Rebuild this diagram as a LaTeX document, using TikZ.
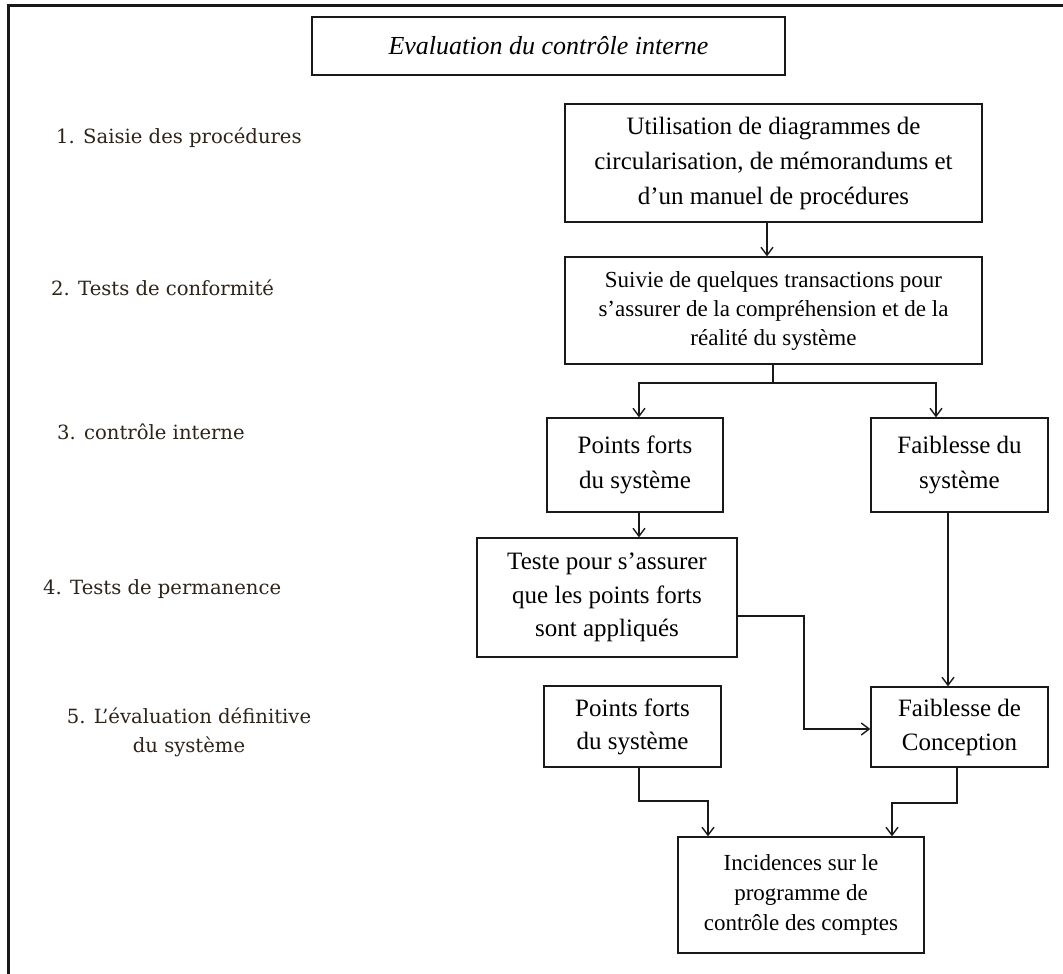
\documentclass[tikz,border=0pt]{standalone}
\usepackage{fontspec}
\setmainfont{Liberation Serif}
\newfontfamily\stagefont{DejaVu Serif}
\usetikzlibrary{arrows.meta}
\definecolor{inkcol}{RGB}{25,25,25}
\definecolor{stagecol}{RGB}{45,35,25}
\begin{document}
\begin{tikzpicture}[x=1pt,y=-1pt,
  box/.style={draw=inkcol, line width=1.3pt, rectangle, inner sep=0pt, align=center, text=black},
  link/.style={draw=inkcol, line width=1.4pt},
  arr/.style={link, -{Straight Barb[length=8pt,width=12pt,line width=1.4pt]}},
  stage/.style={font=\stagefont\fontsize{19.6}{29}\selectfont, text=stagecol, align=center, inner sep=0pt},
  big/.style={font=\fontsize{25}{35}\selectfont},
  small/.style={font=\fontsize{23}{29}\selectfont}]

\useasboundingbox (0,0) rectangle (1063,974);
\fill[white] (0,0) rectangle (1063,974);

% outer frame (top and left sides)
\draw[line width=3pt, inkcol, line join=miter] (8,990) -- (8,6) -- (1080,6);

% title
\node[box, minimum width=473pt, minimum height=58pt,
      font=\itshape\fontsize{26}{30}\selectfont] (title) at (548.5,46)
  {Evaluation du contrôle interne};

% stage labels on the left
\node[stage, anchor=west] (s1) at (56,137.5) {1. Saisie des procédures};
\node[stage, anchor=west] (s2) at (51,288) {2. Tests de conformité};
\node[stage, anchor=west] (s3) at (57,432) {3. contrôle interne};
\node[stage, anchor=west] (s4) at (43,589) {4. Tests de permanence};
\node[stage] (s5) at (189,732.5) {5. L’évaluation définitive\\du système};

% flow boxes
\node[box, big, minimum width=417pt, minimum height=118pt] (b1) at (773.5,163)
  {Utilisation de diagrammes de\\circularisation, de mémorandums et\\d’un manuel de procédures};
\node[box, small, minimum width=417pt, minimum height=107pt] (b2) at (773.5,310.5)
  {Suivie de quelques transactions pour\\s’assurer de la compréhension et de la\\réalité du système};
\node[box, big, minimum width=176pt, minimum height=94pt] (b3L) at (635,465)
  {Points forts\\du système};
\node[box, big, minimum width=177pt, minimum height=94pt] (b3R) at (959.5,465)
  {Faiblesse du\\système};
\node[box, big, font=\fontsize{25}{33.5}\selectfont, minimum width=260pt, minimum height=119pt] (b4) at (607,597.5)
  {Teste pour s’assurer\\que les points forts\\sont appliqués};
\node[box, big, font=\fontsize{25}{33}\selectfont, minimum width=177pt, minimum height=81pt] (b5L) at (632.5,726.5)
  {Points forts\\du système};
\node[box, big, font=\fontsize{25}{34}\selectfont, minimum width=177pt, minimum height=80pt] (b5R) at (959.5,727)
  {Faiblesse de\\Conception};
\node[box, font=\fontsize{23}{30}\selectfont, minimum width=246pt, minimum height=116pt] (b6) at (801,895)
  {Incidences sur le\\programme de\\contrôle des comptes};

% bend points
\coordinate (fork) at (773,383);
\coordinate (bend4) at (804,616);
\coordinate (jL) at (708,801);
\coordinate (jR) at (892,803);

% connectors
\draw[arr] ([xshift=-6.5pt]b1.south) -- ([xshift=-6.5pt]b1.south |- b2.north);
\draw[link] (b2.south -| fork) -- (fork);
\draw[arr] (fork) -| ([xshift=4pt]b3L.north);
\draw[arr] (fork) -| ([xshift=-23.5pt]b3R.north);
\draw[arr] ([xshift=4pt]b3L.south) -- ([xshift=4pt]b3L.south |- b4.north);
\draw[arr] (b4.east |- bend4) -- (bend4) |- ([yshift=-2pt]b5R.west);
\draw[arr] ([xshift=-11.5pt]b3R.south) -- ([xshift=-11.5pt]b3R.south |- b5R.north);
\draw[arr] ([xshift=6.5pt]b5L.south) |- (jL) -- (jL |- b6.north);
\draw[arr] ([xshift=-2.5pt]b5R.south) |- (jR) -- (jR |- b6.north);
\end{tikzpicture}
\end{document}
